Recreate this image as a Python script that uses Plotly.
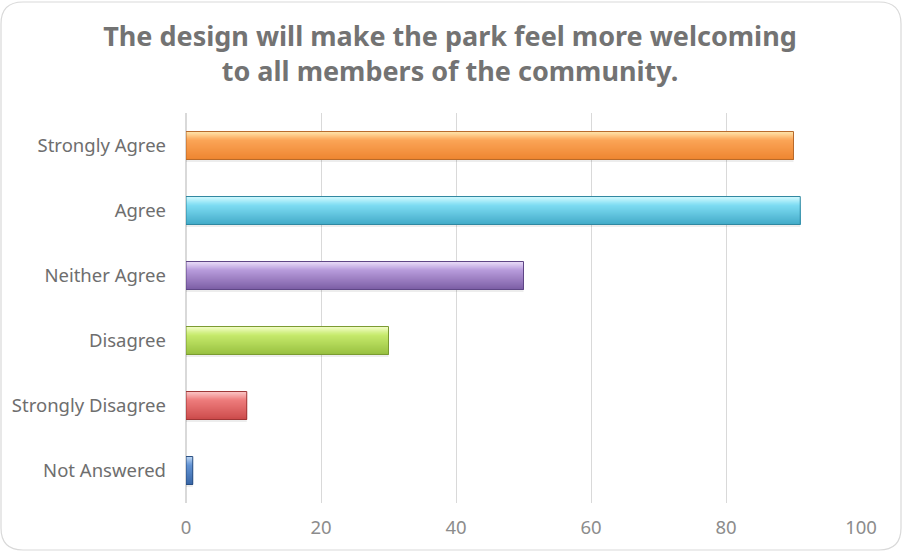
import plotly.graph_objects as go

# Survey responses
categories = ["Strongly Agree", "Agree", "Neither Agree", "Disagree",
              "Strongly Disagree", "Not Answered"]
counts = [90, 91, 50, 30, 9, 1]

# Per-bar colour stops: (top highlight, middle, bottom shade, outline)
top_colors = ["#FFE8B0", "#D8FCFF", "#EDE0FA", "#F6FFCC", "#FCCACA", "#C0D9F5"]
mid_colors = ["#FBA557", "#7FDDF3", "#B89CDC", "#C6EA6C", "#EE7C7C", "#6494D4"]
bot_colors = ["#EE8530", "#42AAC8", "#7C5EA5", "#98C040", "#CC4C4C", "#3866A6"]
edge_colors = ["#B8692A", "#2F87A0", "#5E4585", "#7A9A30", "#9E3535", "#2A4F82"]

title_text = ("The design will make the park feel more welcoming<br>"
              "to all members of the community.")

W, H = 903, 552
ML, MR, MT, MB = 186, 42, 113, 49
BAR_W = 0.43
N_BANDS = 14


def hex_rgb(h):
    h = h.lstrip("#")
    return tuple(int(h[i:i + 2], 16) for i in (0, 2, 4))


def mix(c1, c2, t):
    a, b = hex_rgb(c1), hex_rgb(c2)
    return "rgb(%d,%d,%d)" % tuple(round(a[i] + (b[i] - a[i]) * t) for i in range(3))


def band_color(i, t):
    # light strip on top, then mid tone fading to a darker base
    if t < 0.3:
        return mix(top_colors[i], mid_colors[i], t / 0.3)
    return mix(mid_colors[i], bot_colors[i], (t - 0.3) / 0.7)


fig = go.Figure()

# soft shadow under each bar
fig.add_trace(go.Bar(
    y=categories, x=counts, orientation="h",
    offset=-BAR_W / 2 + 0.04, width=BAR_W,
    marker=dict(color="rgba(0,0,0,0.07)", line=dict(width=0)),
    hoverinfo="skip", showlegend=False,
))

# vertical gradient: each band runs from its start to the bar bottom,
# so later (darker) bands cover the lower part of earlier ones
h = BAR_W / N_BANDS
for k in range(N_BANDS):
    t = (k + 0.5) / N_BANDS
    fig.add_trace(go.Bar(
        y=categories, x=counts, orientation="h",
        offset=-BAR_W / 2 + k * h, width=BAR_W - k * h,
        marker=dict(color=[band_color(i, t) for i in range(len(categories))],
                    line=dict(width=0)),
        hoverinfo="skip", showlegend=False,
    ))

# outline
fig.add_trace(go.Bar(
    y=categories, x=counts, orientation="h",
    offset=-BAR_W / 2, width=BAR_W,
    marker=dict(color="rgba(0,0,0,0)",
                line=dict(color=edge_colors, width=1)),
    showlegend=False,
))

# rounded frame around the chart, in paper coordinates
pw, ph = W - ML - MR, H - MT - MB


def px(x):
    return (x - ML) / pw


def py(y):
    return (H - MB - y) / ph


x0, y0, x1, y1, r = 1, 2, 901, 550, 22
path = (
    f"M {px(x0 + r)},{py(y0)} L {px(x1 - r)},{py(y0)} "
    f"Q {px(x1)},{py(y0)} {px(x1)},{py(y0 + r)} "
    f"L {px(x1)},{py(y1 - r)} Q {px(x1)},{py(y1)} {px(x1 - r)},{py(y1)} "
    f"L {px(x0 + r)},{py(y1)} Q {px(x0)},{py(y1)} {px(x0)},{py(y1 - r)} "
    f"L {px(x0)},{py(y0 + r)} Q {px(x0)},{py(y0)} {px(x0 + r)},{py(y0)} Z"
)

fig.update_layout(
    width=W, height=H,
    margin=dict(l=ML, r=MR, t=MT, b=MB),
    paper_bgcolor="white", plot_bgcolor="white",
    barmode="overlay",
    title=dict(text=title_text, x=450 / W, xref="container", xanchor="center",
               y=1 - 46 / H, yref="container", yanchor="middle",
               font=dict(family="Noto Sans", size=27, color="#737373",
                         weight="bold")),
    xaxis=dict(range=[0, 100], dtick=20, showgrid=True, gridcolor="#D9D9D9",
               gridwidth=1, zeroline=True, zerolinecolor="#D9D9D9",
               showline=False, ticks="", ticklabelstandoff=11,
               tickfont=dict(family="Noto Sans", size=18.5, color="#8C8C8C")),
    yaxis=dict(autorange="reversed", showgrid=False, showline=False,
               ticks="", ticklabelstandoff=19,
               tickfont=dict(family="Noto Sans", size=18.5, color="#6E6E6E")),
    shapes=[dict(type="path", xref="paper", yref="paper", path=path,
                 line=dict(color="#D9D9D9", width=1.2), layer="below")],
)

fig.write_html("out.html")
